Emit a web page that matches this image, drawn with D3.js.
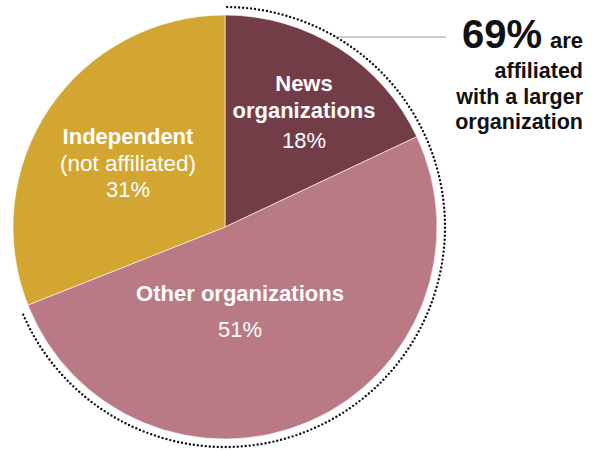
<!DOCTYPE html>
<html>
<head>
<meta charset="utf-8">
<script src="https://cdn.jsdelivr.net/npm/d3@7"></script>
<style>
  html, body { margin: 0; padding: 0; background: #fff; }
  svg { display: block; }
  text { font-family: "Liberation Sans", Arial, sans-serif; }
</style>
</head>
<body>
<svg id="chart" width="593" height="450"></svg>
<script>
// Share of items by affiliation (percent)
const categories = ["News organizations", "Other organizations", "Independent"];
const values = [18, 51, 31];
const labelTitles = [["News", "organizations"], ["Other organizations"], ["Independent", "(not affiliated)"]];
const valueLabels = ["18%", "51%", "31%"];
const calloutValue = "69%";
const calloutLines = ["are", "affiliated", "with a larger", "organization"];

const colors = ["#733d48", "#b97a85", "#d3a632"];

const svg = d3.select("#chart");
const cx = 225, cy = 227, r = 212;

const pie = d3.pie().sort(null).value(d => d);
const arcs = pie(values);
const arc = d3.arc().innerRadius(0).outerRadius(r);

const g = svg.append("g").attr("transform", `translate(${cx},${cy})`);

g.selectAll("path.slice")
  .data(arcs)
  .join("path")
  .attr("class", "slice")
  .attr("d", arc)
  .attr("fill", (d, i) => colors[i])
  .attr("stroke", "#fff")
  .attr("stroke-width", 0.6);

// Dotted bracket around the affiliated share (news + other), drawn as a single open arc
const affiliatedEnd = arcs[1].endAngle;
const bracketR = 220;
const bp = d3.path();
const a0 = 0.01 - Math.PI / 2, a1 = affiliatedEnd - 0.02 - Math.PI / 2;
bp.moveTo(bracketR * Math.cos(a0), bracketR * Math.sin(a0));
bp.arc(0, 0, bracketR, a0, a1);
g.append("path")
  .attr("d", bp.toString())
  .attr("fill", "none")
  .attr("stroke", "#111")
  .attr("stroke-width", 2.4)
  .attr("stroke-linecap", "round")
  .attr("stroke-dasharray", "0 4");

// Leader line to the callout
const leadY = 37;
const leadX0 = Math.sqrt(bracketR * bracketR - (leadY - cy) * (leadY - cy)) + cx;
svg.append("line")
  .attr("x1", leadX0).attr("x2", 446)
  .attr("y1", leadY).attr("y2", leadY)
  .attr("stroke", "#9a9a9a").attr("stroke-width", 1.2);

// Callout text
const callout = svg.append("g").attr("fill", "#111").attr("font-weight", "bold");
callout.append("text")
  .attr("x", 583).attr("y", 48)
  .attr("text-anchor", "end")
  .attr("font-size", 22)
  .text(calloutLines[0])
  .each(function () {
    const w = this.getComputedTextLength();
    callout.append("text")
      .attr("x", 583 - w - 8).attr("y", 48)
      .attr("text-anchor", "end")
      .attr("font-size", 40)
      .text(calloutValue);
  });
calloutLines.slice(1).forEach((t, i) => {
  callout.append("text")
    .attr("x", 583).attr("y", 78 + i * 25.5)
    .attr("text-anchor", "end")
    .attr("font-size", 21.5)
    .text(t);
});

// Slice labels
const labelPos = [
  { x: 304, y: 91, valueY: 148 },
  { x: 240, y: 301, valueY: 337 },
  { x: 128, y: 144, valueY: 197 }
];
const lineGap = 27;

arcs.forEach((a, i) => {
  const p = labelPos[i];
  const lg = svg.append("g").attr("fill", "#fff").attr("text-anchor", "middle");
  const titles = labelTitles[i];
  lg.append("text")
    .attr("x", p.x).attr("y", p.y)
    .attr("font-size", 22).attr("font-weight", "bold")
    .text(titles[0]);
  if (titles.length > 1) {
    const bold = i === 0;
    lg.append("text")
      .attr("x", p.x).attr("y", p.y + lineGap)
      .attr("font-size", bold ? 22 : 22.5)
      .attr("font-weight", bold ? "bold" : "normal")
      .text(titles[1]);
  }
  lg.append("text")
    .attr("x", p.x).attr("y", p.valueY)
    .attr("font-size", 22).attr("font-weight", "normal")
    .text(valueLabels[i]);
});
</script>
</body>
</html>
